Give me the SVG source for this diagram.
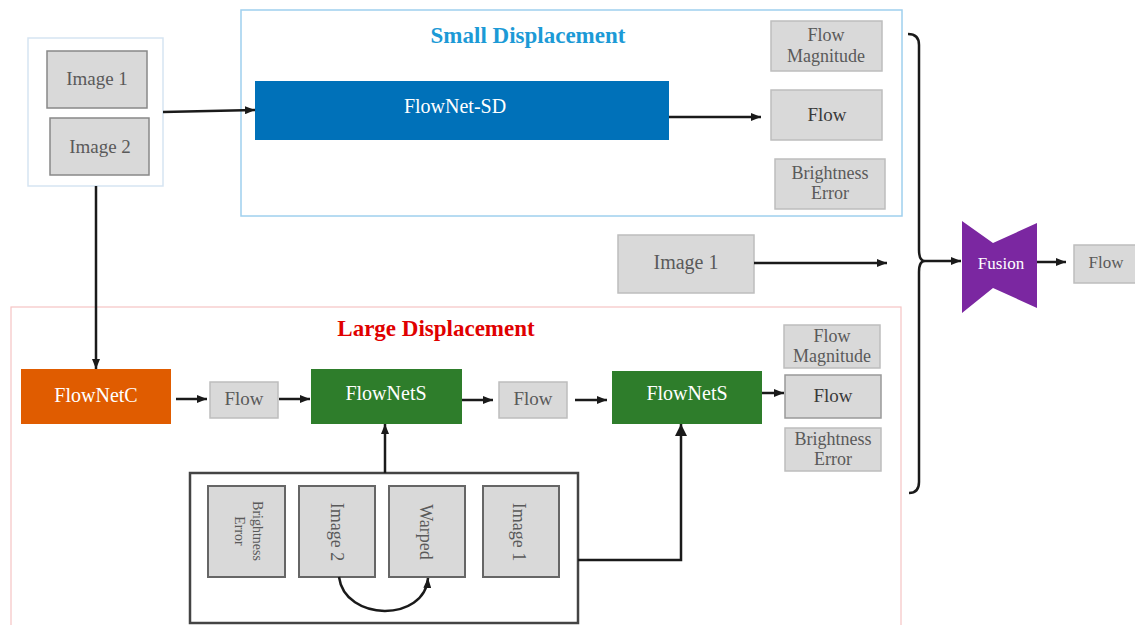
<svg xmlns="http://www.w3.org/2000/svg" width="1135" height="625" viewBox="0 0 1135 625">
<defs>
<marker id="ah" markerUnits="userSpaceOnUse" markerWidth="10" markerHeight="8" refX="10" refY="4" orient="auto"><path d="M0,0 L10,4 L0,8 z" fill="#1a1a1a"/></marker>
<marker id="ahb" markerUnits="userSpaceOnUse" markerWidth="12" markerHeight="12" refX="12" refY="6" orient="auto"><path d="M0,0 L12,6 L0,12 z" fill="#1a1a1a"/></marker>
<style>
text{font-family:"Liberation Serif","Times New Roman",serif;text-anchor:middle}
.gbox{fill:#d9d9d9;stroke:#bdbdbd;stroke-width:1.5}
.ibox{fill:#d9d9d9;stroke:#666;stroke-width:2}
.gt{fill:#5a5a5a}
.dt{fill:#3a3a3a}
.wt{fill:#ffffff}
.conn{fill:none;stroke:#1a1a1a;stroke-width:2.5}
</style>
</defs>
<rect width="1135" height="625" fill="#ffffff"/>

<g id="small-displacement">
<rect x="241" y="10" width="661" height="206" fill="none" stroke="#9fd0ee" stroke-width="1.5"/>
<text x="528" y="43" font-size="23" font-weight="bold" fill="#1c9ad6">Small Displacement</text>
</g>
<g id="large-displacement">
<rect x="11" y="307" width="890" height="325" fill="none" stroke="#f6c4c4" stroke-width="1.2"/>
<text x="436" y="336" font-size="23" font-weight="bold" fill="#e00000">Large Displacement</text>
</g>

<g id="inputs">
<rect x="28" y="38" width="135" height="148" fill="#ffffff" stroke="#d6e5f2" stroke-width="1.5"/>
<g id="input-image1"><rect class="gbox" x="47" y="51" width="100" height="57" style="stroke:#888"/><text class="gt" x="97" y="85" font-size="19">Image 1</text></g>
<g id="input-image2"><rect class="gbox" x="50" y="118" width="99" height="57" style="stroke:#888"/><text class="gt" x="100" y="153" font-size="19">Image 2</text></g>
</g>

<g id="flownet-sd"><rect x="255" y="81" width="414" height="59" fill="#0071b9"/><text class="wt" x="455" y="113" font-size="20">FlowNet-SD</text></g>
<g id="sd-flow-magnitude"><rect class="gbox" x="771" y="21" width="111" height="50"/><text class="gt" x="826" y="41" font-size="18">Flow</text><text class="gt" x="826" y="62" font-size="18">Magnitude</text></g>
<g id="sd-flow"><rect class="gbox" x="771" y="90" width="111" height="50"/><text class="dt" x="827" y="121" font-size="19">Flow</text></g>
<g id="sd-brightness-error"><rect class="gbox" x="775" y="159" width="110" height="50"/><text class="gt" x="830" y="179" font-size="18">Brightness</text><text class="gt" x="830" y="199" font-size="18">Error</text></g>

<g id="mid-image1"><rect class="gbox" x="618" y="235" width="136" height="58"/><text class="gt" x="686" y="269" font-size="20">Image 1</text></g>

<g id="fusion"><path d="M962,221 L993,243 L1037,223 L1037,308 L993,288 L962,313 Z" fill="#7b27a1"/><text x="1001" y="269" font-size="17" fill="#ffffff">Fusion</text></g>
<g id="out-flow"><rect class="gbox" x="1074" y="245" width="63" height="38"/><text class="gt" x="1106" y="268" font-size="17">Flow</text></g>

<g id="flownetc"><rect x="21" y="369" width="150" height="55" fill="#e05c00"/><text class="wt" x="96" y="402" font-size="20">FlowNetC</text></g>
<g id="ld-flow1"><rect class="gbox" x="210" y="382" width="68" height="36"/><text class="gt" x="244" y="405" font-size="19">Flow</text></g>
<g id="flownets1"><rect x="311" y="369" width="151" height="55" fill="#2e7d2b"/><text class="wt" x="386" y="400" font-size="20">FlowNetS</text></g>
<g id="ld-flow2"><rect class="gbox" x="499" y="382" width="68" height="36"/><text class="gt" x="533" y="405" font-size="19">Flow</text></g>
<g id="flownets2"><rect x="612" y="371" width="150" height="53" fill="#2e7d2b"/><text class="wt" x="687" y="400" font-size="20">FlowNetS</text></g>
<g id="ld-flow-magnitude"><rect class="gbox" x="784" y="325" width="96" height="43"/><text class="gt" x="832" y="342" font-size="18">Flow</text><text class="gt" x="832" y="362" font-size="18">Magnitude</text></g>
<g id="ld-flow"><rect class="gbox" x="785" y="375" width="96" height="43" style="stroke:#999"/><text class="dt" x="833" y="402" font-size="19">Flow</text></g>
<g id="ld-brightness-error"><rect class="gbox" x="785" y="428" width="96" height="43"/><text class="gt" x="833" y="445" font-size="18">Brightness</text><text class="gt" x="833" y="465" font-size="18">Error</text></g>

<g id="warp-group">
<rect x="190" y="473" width="388" height="150" fill="#ffffff" stroke="#444" stroke-width="2.5"/>
<g id="w-brightness-error"><rect class="ibox" x="208" y="486" width="77" height="91"/><text class="gt" font-size="14" transform="translate(253,531) rotate(90)">Brightness</text><text class="gt" font-size="14" transform="translate(235,531) rotate(90)">Error</text></g>
<g id="w-image2"><rect class="ibox" x="299" y="486" width="76" height="91"/><text class="gt" font-size="18" transform="translate(331,532) rotate(90)">Image 2</text></g>
<g id="w-warped"><rect class="ibox" x="389" y="486" width="76" height="91"/><text class="gt" font-size="18" transform="translate(420,532) rotate(90)">Warped</text></g>
<g id="w-image1"><rect class="ibox" x="483" y="486" width="76" height="91"/><text class="gt" font-size="18" transform="translate(513,532) rotate(90)">Image 1</text></g>
</g>

<g id="connectors">
<path class="conn" d="M163,112 L255,110" marker-end="url(#ah)"/>
<path class="conn" d="M96,186 V369" marker-end="url(#ah)"/>
<path class="conn" d="M669,117 H761" marker-end="url(#ah)"/>
<path class="conn" d="M754,263 H887" marker-end="url(#ah)"/>
<path class="conn" d="M908,34 Q919,34 919,45 V250 Q919,261 925,261 Q919,261 919,272 V482 Q919,493 909,493"/>
<path class="conn" d="M925,261 H961" marker-end="url(#ah)"/>
<path class="conn" d="M1037,262 H1066" marker-end="url(#ah)"/>
<path class="conn" d="M176,399 H207" marker-end="url(#ah)"/>
<path class="conn" d="M279,399 H310" marker-end="url(#ah)"/>
<path class="conn" d="M462,400 H493" marker-end="url(#ah)"/>
<path class="conn" d="M575,400 H607" marker-end="url(#ah)"/>
<path class="conn" d="M762,393 H784" marker-end="url(#ah)"/>
<path class="conn" d="M385,473 V424" marker-end="url(#ah)"/>
<path class="conn" d="M578,560 H681 V424" marker-end="url(#ahb)"/>
<path class="conn" stroke-width="2" d="M339,577 C345,622 425,622 428,578" marker-end="url(#ah)"/>
</g>
</svg>
